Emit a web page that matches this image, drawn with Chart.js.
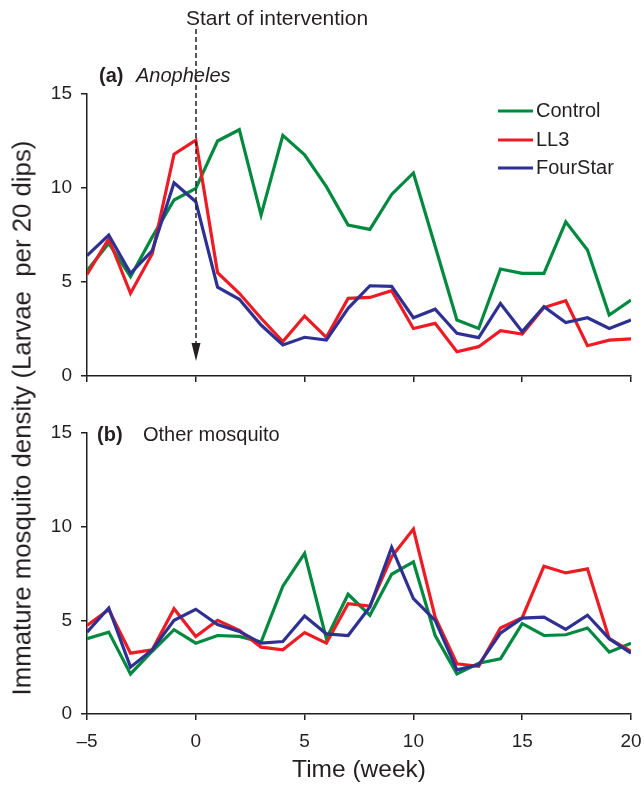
<!DOCTYPE html>
<html>
<head>
<meta charset="utf-8">
<script src="https://cdn.jsdelivr.net/npm/chart.js@4"></script>
<style>
  body { margin: 0; background: #fff; }
  #wrap { position: relative; width: 644px; height: 785px; }
  canvas { position: absolute; left: 0; }
  #chartA { top: 0; }
  #chartB { top: 400px; }
  #yTitle {
    position: absolute; left: 22px; top: 418px; width: 640px;
    transform: translate(-50%, -50%) rotate(-90deg);
    text-align: center; white-space: pre;
    font: 25.8px "Liberation Sans", Arial, sans-serif; color: #231f20;
  }
</style>
</head>
<body>
<div id="wrap">
  <canvas id="chartA" width="644" height="400"></canvas>
  <canvas id="chartB" width="644" height="385"></canvas>
  <div id="yTitle">Immature mosquito density (Larvae  per 20 dips)</div>
</div>
<script>
// Data (week -5 .. 20)
const weeks = [-5, -4, -3, -2, -1, 0, 1, 2, 3, 4, 5, 6, 7, 8, 9, 10, 11, 12, 13, 14, 15, 16, 17, 18, 19, 20];
const seriesNames = ['Control', 'LL3', 'FourStar'];

// (a) Anopheles
const controlA = [5.6, 7.06, 5.28, 7.4, 9.36, 9.98, 12.5, 13.1, 8.56, 12.8, 11.76, 10.07, 8.03, 7.8, 9.66, 10.8, 6.9, 2.98, 2.53, 5.69, 5.46, 5.46, 8.2, 6.7, 3.24, 4.04];
const ll3A = [5.4, 7.3, 4.4, 6.5, 11.8, 12.55, 5.5, 4.4, 3.07, 1.83, 3.19, 2.06, 4.13, 4.18, 4.54, 2.53, 2.8, 1.29, 1.56, 2.41, 2.23, 3.64, 4.0, 1.61, 1.91, 1.98];
const fourStarA = [6.4, 7.5, 5.46, 6.67, 10.28, 9.27, 4.72, 4.08, 2.71, 1.65, 2.06, 1.91, 3.6, 4.8, 4.77, 3.1, 3.55, 2.27, 2.04, 3.86, 2.36, 3.69, 2.84, 3.1, 2.53, 2.98];

// (b) Other mosquito
const controlB = [4.02, 4.37, 2.14, 3.35, 4.5, 3.78, 4.19, 4.14, 3.84, 6.82, 8.57, 4.02, 6.39, 5.27, 7.46, 8.12, 4.19, 2.14, 2.71, 2.94, 4.82, 4.19, 4.23, 4.59, 3.3, 3.78];
const ll3B = [4.73, 5.57, 3.25, 3.43, 5.62, 4.14, 5.0, 4.46, 3.57, 3.43, 4.35, 3.78, 5.89, 5.76, 8.39, 9.87, 5.17, 2.68, 2.55, 4.59, 5.14, 7.89, 7.53, 7.75, 4.02, 3.34];
const fourStarB = [4.37, 5.66, 2.5, 3.43, 5.0, 5.59, 4.78, 4.41, 3.78, 3.87, 5.23, 4.28, 4.19, 5.71, 8.89, 6.16, 5.0, 2.36, 2.62, 4.32, 5.12, 5.17, 4.52, 5.27, 4.02, 3.25];

const colors = ['#00893f', '#ed1c24', '#2e3192'];
const ink = '#231f20';
const fontFamily = '"Liberation Sans", Arial, sans-serif';

function makeDatasets(list) {
  return list.map((vals, i) => ({
    label: seriesNames[i],
    data: vals.map((v, j) => ({ x: weeks[j], y: v })),
    borderColor: colors[i],
    borderWidth: 3.2,
    pointRadius: 0,
    tension: 0,
    fill: false,
    borderJoinStyle: 'miter',
    order: 2 - i,
  }));
}

function makeScales(showXLabels, xHeight) {
  return {
    x: {
      type: 'linear', min: -5, max: 20,
      afterFit: (s) => {
        s.height = xHeight;
        // keep the plot width fixed, labels may overhang the edges
        s.paddingLeft = 0;
        s.paddingRight = 0;
      },
      border: { display: true, color: ink, width: 1.5 },
      grid: { drawOnChartArea: false, drawTicks: true, tickLength: 6, color: ink, lineWidth: 1.5 },
      ticks: {
        display: showXLabels, stepSize: 5, color: ink, padding: 10,
        font: { family: fontFamily, size: 19 },
        callback: (v) => (v < 0 ? '\u2013' + Math.abs(v) : String(v)),
      },
      title: {
        display: showXLabels, text: 'Time (week)', color: ink,
        font: { family: fontFamily, size: 24.5 }, padding: { top: 0, bottom: 0 },
      },
    },
    y: {
      min: 0, max: 15,
      afterFit: (s) => { s.width = 87; },
      border: { display: true, color: ink, width: 1.5 },
      grid: { drawOnChartArea: false, drawTicks: true, tickLength: 6, color: ink, lineWidth: 1.5 },
      ticks: { stepSize: 5, color: ink, padding: 9, font: { family: fontFamily, size: 19 } },
    },
  };
}

// Panel label, legend and intervention arrow
const panelA = {
  id: 'panelA',
  afterDraw(chart) {
    const { ctx, chartArea, scales } = chart;
    ctx.save();
    ctx.fillStyle = ink;
    ctx.textBaseline = 'middle';
    ctx.font = 'bold 20px ' + fontFamily;
    ctx.fillText('(a)', 99, 76);
    ctx.font = 'italic 20px ' + fontFamily;
    ctx.fillText('Anopheles', 136, 76);

    // legend
    ctx.font = '20px ' + fontFamily;
    const rows = [111, 140, 168];
    seriesNames.forEach((name, i) => {
      ctx.strokeStyle = colors[i];
      ctx.lineWidth = 3.2;
      ctx.beginPath();
      ctx.moveTo(498, rows[i]);
      ctx.lineTo(533, rows[i]);
      ctx.stroke();
      ctx.fillStyle = ink;
      ctx.fillText(name, 536, rows[i]);
    });

    // start of intervention
    const x0 = Math.round(scales.x.getPixelForValue(0));
    ctx.font = '21px ' + fontFamily;
    ctx.fillText('Start of intervention', x0 - 10, 19);
    ctx.strokeStyle = ink;
    ctx.lineWidth = 1.5;
    ctx.setLineDash([5, 3]);
    ctx.beginPath();
    ctx.moveTo(x0, 29);
    ctx.lineTo(x0, chartArea.bottom - 30);
    ctx.stroke();
    ctx.setLineDash([]);
    ctx.beginPath();
    ctx.moveTo(x0 - 4.5, chartArea.bottom - 33);
    ctx.lineTo(x0 + 4.5, chartArea.bottom - 33);
    ctx.lineTo(x0, chartArea.bottom - 15);
    ctx.closePath();
    ctx.fill();
    ctx.restore();
  },
};

const panelB = {
  id: 'panelB',
  afterDraw(chart) {
    const { ctx } = chart;
    ctx.save();
    ctx.fillStyle = ink;
    ctx.textBaseline = 'middle';
    ctx.font = 'bold 20px ' + fontFamily;
    ctx.fillText('(b)', 97, 35);
    ctx.font = '20px ' + fontFamily;
    ctx.fillText('Other mosquito', 143, 35);
    ctx.restore();
  },
};

const baseOptions = {
  responsive: false,
  animation: false,
  devicePixelRatio: 1,
  plugins: { legend: { display: false }, tooltip: { enabled: false } },
};

new Chart(document.getElementById('chartA'), {
  type: 'line',
  data: { datasets: makeDatasets([controlA, ll3A, fourStarA]) },
  options: Object.assign({}, baseOptions, {
    layout: { padding: { top: 94, right: 13, left: 0, bottom: 0 } },
    scales: makeScales(false, 24),
  }),
  plugins: [panelA],
});

new Chart(document.getElementById('chartB'), {
  type: 'line',
  data: { datasets: makeDatasets([controlB, ll3B, fourStarB]) },
  options: Object.assign({}, baseOptions, {
    layout: { padding: { top: 33, right: 13, left: 0, bottom: 0 } },
    scales: makeScales(true, 71),
  }),
  plugins: [panelB],
});
</script>
</body>
</html>
